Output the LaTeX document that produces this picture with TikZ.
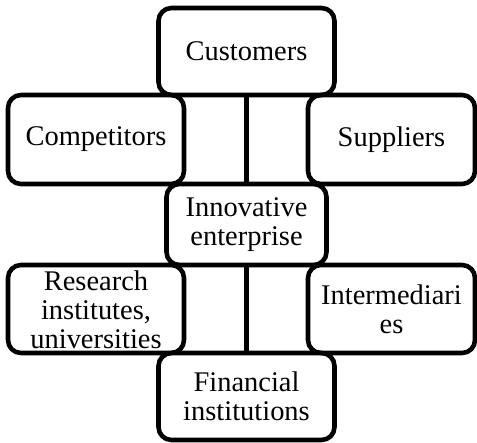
\documentclass[tikz,border=0pt]{standalone}
\usepackage{fontspec}
\setmainfont{Liberation Serif}
\usepackage{tikz}
\usetikzlibrary{positioning}

\begin{document}
\begin{tikzpicture}[
  every node/.style={font=\fontsize{16.2pt}{16.5pt}\selectfont},
  actor/.style={draw, rectangle, rounded corners=2.6mm, line width=2.6pt, align=center, inner sep=0pt},
  wide/.style={minimum width=3.52cm},
  narrow/.style={minimum width=3.34cm},
  link/.style={line width=2.6pt},
]
\useasboundingbox (0,0) rectangle (9.54,-8.84);

% Central column: customers, the enterprise, finance
\node[actor, wide, minimum height=1.74cm] (cust) at (4.93,-1.03) {Customers};
\node[actor, minimum width=3.2cm, minimum height=1.62cm] (innov) at (4.93,-4.49) {Innovative\\enterprise};
\node[actor, wide, minimum height=1.74cm] (fin) at (4.93,-7.93) {Financial\\institutions};

% Upper row
\node[actor, wide, minimum height=1.78cm] (comp) at (1.92,-2.79) {Competitors};
\node[actor, narrow, minimum height=1.78cm] (supp) at (7.83,-2.79) {Suppliers};

% Lower row (the three-line box sits a bit low)
\node[actor, wide, minimum height=1.76cm] (res) at (1.92,-6.18)
  {\rule{0pt}{12.5pt}Research\\institutes,\\universities};
\node[actor, narrow, minimum height=1.76cm] (inter) at (7.83,-6.18) {Intermediari\\es};

% Vertical links through the middle
\draw[link] (cust) -- (innov);
\draw[link] (innov) -- (fin);
\end{tikzpicture}
\end{document}
